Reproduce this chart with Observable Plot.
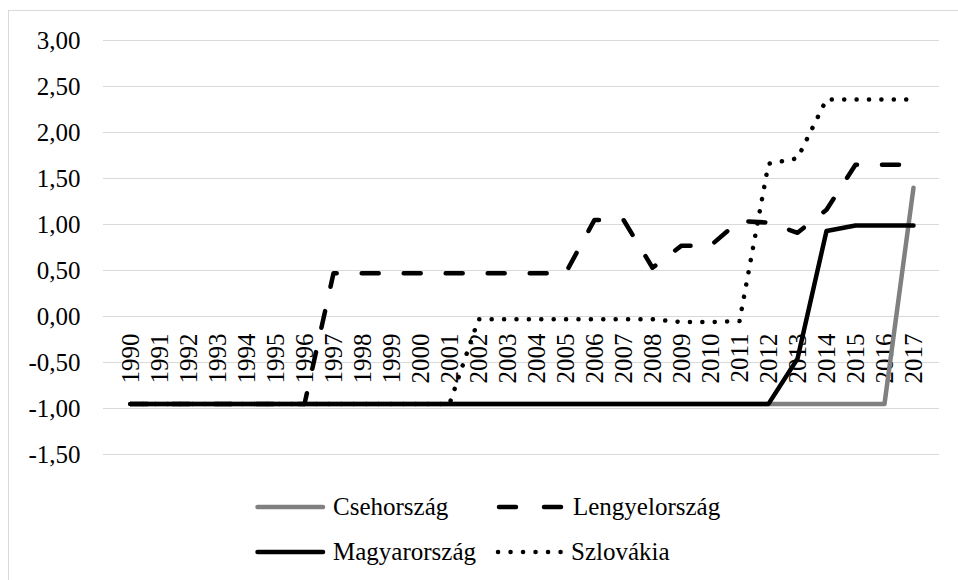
<!DOCTYPE html>
<html>
<head>
<meta charset="utf-8">
<script src="https://cdn.jsdelivr.net/npm/d3@7"></script>
<script src="https://cdn.jsdelivr.net/npm/@observablehq/plot@0.6"></script>
<style>
  html, body { margin: 0; padding: 0; background: #fff; font-family: 'Liberation Serif', serif; }
  #wrap { position: relative; width: 958px; height: 580px; overflow: hidden; }
  #frame { position: absolute; left: 8px; top: 10px; width: 1000px; height: 1000px; border-left: 1px solid #d9d9d9; border-top: 1px solid #d9d9d9; }
  #chart { position: absolute; left: 0; top: 0; }
  .leg { position: absolute; display: flex; align-items: center; font-size: 25px; color: #000; white-space: nowrap; font-family: 'Liberation Serif', serif; }
  .leg svg { display: block; }
</style>
</head>
<body>
<div id="wrap">
  <div id="frame"></div>
  <div id="chart"></div>
  <div id="legend"></div>
</div>
<script>
const years = ["1990","1991","1992","1993","1994","1995","1996","1997","1998","1999","2000","2001","2002","2003","2004","2005","2006","2007","2008","2009","2010","2011","2012","2013","2014","2015","2016","2017"];
const csehorszag   = [-0.95,-0.95,-0.95,-0.95,-0.95,-0.95,-0.95,-0.95,-0.95,-0.95,-0.95,-0.95,-0.95,-0.95,-0.95,-0.95,-0.95,-0.95,-0.95,-0.95,-0.95,-0.95,-0.95,-0.95,-0.95,-0.95,-0.95,1.40];
const lengyelorszag= [-0.95,-0.95,-0.95,-0.95,-0.95,-0.95,-0.95,0.47,0.47,0.47,0.47,0.47,0.47,0.47,0.47,0.47,1.05,1.05,0.53,0.77,0.77,1.04,1.02,0.91,1.16,1.65,1.65,1.65];
const magyarorszag = [-0.95,-0.95,-0.95,-0.95,-0.95,-0.95,-0.95,-0.95,-0.95,-0.95,-0.95,-0.95,-0.95,-0.95,-0.95,-0.95,-0.95,-0.95,-0.95,-0.95,-0.95,-0.95,-0.95,-0.46,0.93,0.99,0.99,0.99];
const szlovakia    = [-0.95,-0.95,-0.95,-0.95,-0.95,-0.95,-0.95,-0.95,-0.95,-0.95,-0.95,-0.95,-0.03,-0.03,-0.03,-0.03,-0.03,-0.03,-0.03,-0.06,-0.06,-0.05,1.66,1.72,2.36,2.36,2.36,2.36];
const yTicks = [-1.5,-1,-0.5,0,0.5,1,1.5,2,2.5,3];
const seriesNames = ["Csehország","Lengyelország","Magyarország","Szlovákia"];

const styles = {
  "Csehország":   {stroke: "#808080", dash: null},
  "Lengyelország":{stroke: "#000000", dash: "17,25"},
  "Magyarország": {stroke: "#000000", dash: null},
  "Szlovákia":    {stroke: "#000000", dash: "0.1,12.3"}
};
const seriesValues = [csehorszag, lengyelorszag, magyarorszag, szlovakia];
const fmt = v => d3.format(".2f")(v).replace(".", ",").replace("−", "-");
const FONT = "'Liberation Serif', serif";

const lineMarks = seriesNames.map((name, i) => {
  const data = years.map((y, j) => ({year: y, value: seriesValues[i][j]}));
  return Plot.line(data, {
    x: "year", y: "value",
    stroke: styles[name].stroke,
    strokeWidth: 4.5,
    strokeDasharray: styles[name].dash,
    strokeLinecap: "round",
    strokeLinejoin: "round"
  });
});

const plot = Plot.plot({
  width: 958,
  height: 475,
  marginLeft: 103,
  marginRight: 19,
  marginTop: 40,
  marginBottom: 21,
  style: `font-family: ${FONT}; font-size: 25px; background: transparent; color: #000; overflow: visible;`,
  x: {type: "point", domain: years, padding: 0.5, axis: null},
  y: {domain: [-1.5, 3], axis: null},
  marks: [
    Plot.ruleY(yTicks, {stroke: "#d9d9d9", strokeWidth: 1.2}),
    Plot.axisY({ticks: yTicks, tickFormat: fmt, tickSize: 0, tickPadding: 23, fontSize: 25, label: null, fontFamily: FONT}),
    Plot.text(years, {x: d => d, y: () => 0, rotate: -90, textAnchor: "end", dy: 17, fontSize: 25, fill: "#000", fontFamily: FONT}),
    ...lineMarks
  ]
});
plot.setAttribute("font-family", FONT);
document.getElementById("chart").appendChild(plot);

// Legend
const legend = document.getElementById("legend");
const legendPos = [
  {name: "Csehország", x: 255, y: 507, w: 70},
  {name: "Lengyelország", x: 495, y: 507, w: 70},
  {name: "Magyarország", x: 255, y: 552, w: 70},
  {name: "Szlovákia", x: 495, y: 552, w: 68}
];
legendPos.forEach(p => {
  const st = styles[p.name];
  const div = document.createElement("div");
  div.className = "leg";
  div.style.left = p.x + "px";
  div.style.top = (p.y - 16) + "px";
  div.style.height = "32px";
  div.style.fontFamily = FONT;
  const svg = d3.create("svg").attr("width", p.w + 8).attr("height", 32);
  const ln = svg.append("line")
    .attr("x1", 2.5).attr("x2", p.w - 2).attr("y1", 16).attr("y2", 16)
    .attr("stroke", st.stroke).attr("stroke-width", 4.5)
    .attr("stroke-linecap", "round");
  if (p.name === "Lengyelország") ln.attr("stroke-dasharray", "17,28").attr("x1", 4);
  if (p.name === "Szlovákia") ln.attr("stroke-dasharray", "0.1,12.4").attr("x1", 3);
  div.appendChild(svg.node());
  const span = document.createElement("span");
  span.textContent = p.name;
  span.style.lineHeight = "32px";
  span.style.fontFamily = FONT;
  div.appendChild(span);
  legend.appendChild(div);
});
</script>
</body>
</html>
